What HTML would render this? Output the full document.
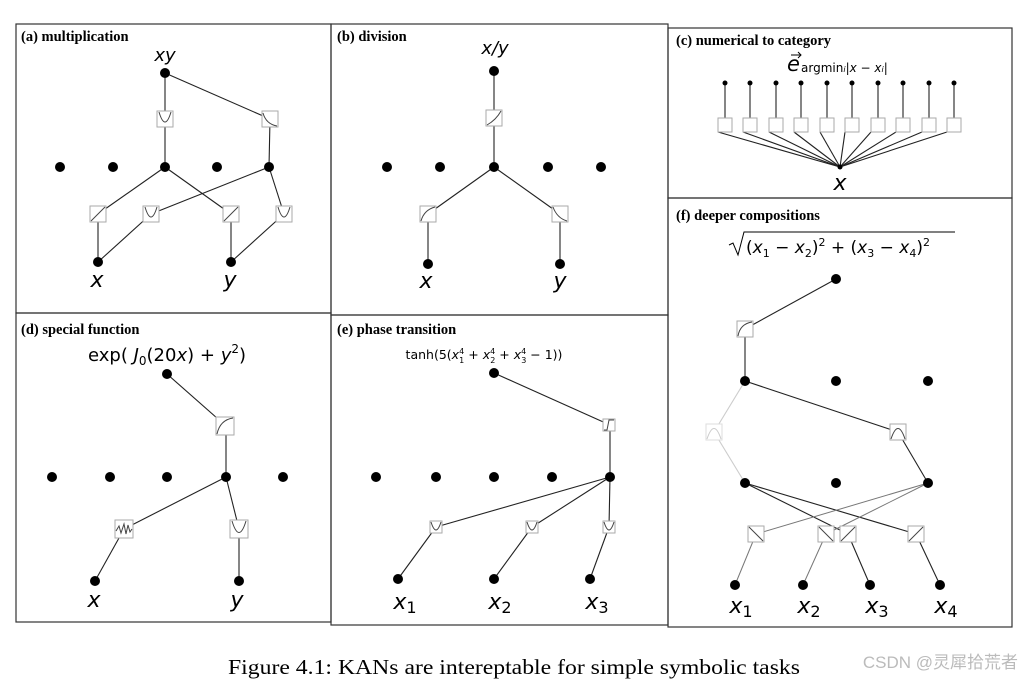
<!DOCTYPE html>
<html><head><meta charset="utf-8"><style>
body{margin:0;background:#fff;width:1024px;height:681px;overflow:hidden}
svg{display:block}
.t{font-family:"Liberation Serif",serif;font-weight:bold;font-size:14.5px}
.m{font-family:"DejaVu Sans","Liberation Sans",sans-serif;font-style:italic}
.b{fill:#fff;stroke:#aaa;stroke-width:1}
.c{fill:none;stroke:#444;stroke-width:1}
.e{stroke:#222;stroke-width:1.1}
.g{stroke:#ccc;stroke-width:1.1}
</style></head><body>
<svg width="1024" height="681" xmlns="http://www.w3.org/2000/svg">
<g fill="none" stroke="#333" stroke-width="1.2">
<rect x="16" y="24" width="315" height="289"/>
<rect x="331" y="24" width="337" height="291"/>
<rect x="668" y="28" width="344" height="170"/>
<rect x="16" y="313" width="315" height="309"/>
<rect x="331" y="315" width="337" height="310"/>
<rect x="668" y="198" width="344" height="429"/>
</g>
<text class="t" x="21" y="41">(a) multiplication</text>
<text class="t" x="337" y="41">(b) division</text>
<text class="t" x="676" y="45">(c) numerical to category</text>
<text class="t" x="21" y="334">(d) special function</text>
<text class="t" x="337" y="334">(e) phase transition</text>
<text class="t" x="676" y="220">(f) deeper compositions</text>

<!-- (a) -->
<g class="e">
<line x1="165" y1="73" x2="165" y2="167"/><line x1="165" y1="73" x2="270" y2="119"/><line x1="270" y1="119" x2="269" y2="167"/>
<line x1="165" y1="167" x2="98" y2="214"/><line x1="98" y1="214" x2="98" y2="262"/>
<line x1="165" y1="167" x2="231" y2="214"/><line x1="231" y1="214" x2="231" y2="262"/>
<line x1="269" y1="167" x2="151" y2="214"/><line x1="151" y1="214" x2="98" y2="262"/>
<line x1="269" y1="167" x2="284" y2="214"/><line x1="284" y1="214" x2="231" y2="262"/>
</g>
<g>
<rect class="b" x="157" y="111" width="16" height="16"/><path class="c" d="M159 112 Q165 132 171 112"/>
<rect class="b" x="262" y="111" width="16" height="16"/><path class="c" d="M263 113 Q266 124 277 126"/>
<rect class="b" x="90" y="206" width="16" height="16"/><path class="c" d="M91 221 L105 207"/>
<rect class="b" x="143" y="206" width="16" height="16"/><path class="c" d="M145 207 Q151 227 157 207"/>
<rect class="b" x="223" y="206" width="16" height="16"/><path class="c" d="M224 221 L238 207"/>
<rect class="b" x="276" y="206" width="16" height="16"/><path class="c" d="M278 207 Q284 227 290 207"/>
</g>
<g fill="#000"><circle cx="165" cy="73" r="5"/><circle cx="60" cy="167" r="5"/><circle cx="113" cy="167" r="5"/><circle cx="165" cy="167" r="5"/><circle cx="217" cy="167" r="5"/><circle cx="269" cy="167" r="5"/><circle cx="98" cy="262" r="5"/><circle cx="231" cy="262" r="5"/></g>
<text class="m" x="165" y="61" font-size="18" text-anchor="middle">xy</text>
<text class="m" x="97" y="287" font-size="22" text-anchor="middle">x</text>
<text class="m" x="230" y="287" font-size="22" text-anchor="middle">y</text>

<!-- (b) -->
<g class="e">
<line x1="494" y1="71" x2="494" y2="167"/><line x1="494" y1="167" x2="428" y2="214"/><line x1="428" y1="214" x2="428" y2="264"/>
<line x1="494" y1="167" x2="560" y2="214"/><line x1="560" y1="214" x2="560" y2="264"/>
</g>
<rect class="b" x="486" y="110" width="16" height="16"/><path class="c" d="M487 125 Q496 120 501 111"/>
<rect class="b" x="420" y="206" width="16" height="16"/><path class="c" d="M421 221 Q424 210 435 207"/>
<rect class="b" x="552" y="206" width="16" height="16"/><path class="c" d="M553 207 Q557 218 567 221"/>
<g fill="#000"><circle cx="494" cy="71" r="5"/><circle cx="387" cy="167" r="5"/><circle cx="440" cy="167" r="5"/><circle cx="494" cy="167" r="5"/><circle cx="548" cy="167" r="5"/><circle cx="601" cy="167" r="5"/><circle cx="428" cy="264" r="5"/><circle cx="560" cy="264" r="5"/></g>
<text class="m" x="495" y="54" font-size="18" text-anchor="middle">x/y</text>
<text class="m" x="426" y="288" font-size="22" text-anchor="middle">x</text>
<text class="m" x="560" y="288" font-size="22" text-anchor="middle">y</text>

<!-- (c) -->
<g class="e">
<line x1="725" y1="83" x2="725" y2="125"/><line x1="750" y1="83" x2="750" y2="125"/><line x1="776" y1="83" x2="776" y2="125"/><line x1="801" y1="83" x2="801" y2="125"/><line x1="827" y1="83" x2="827" y2="125"/><line x1="852" y1="83" x2="852" y2="125"/><line x1="878" y1="83" x2="878" y2="125"/><line x1="903" y1="83" x2="903" y2="125"/><line x1="929" y1="83" x2="929" y2="125"/><line x1="954" y1="83" x2="954" y2="125"/>
<line x1="718" y1="132" x2="840" y2="167"/><line x1="743" y1="132" x2="840" y2="167"/><line x1="769" y1="132" x2="840" y2="167"/><line x1="794" y1="132" x2="840" y2="167"/><line x1="820" y1="132" x2="840" y2="167"/><line x1="845" y1="132" x2="840" y2="167"/><line x1="871" y1="132" x2="840" y2="167"/><line x1="896" y1="132" x2="840" y2="167"/><line x1="922" y1="132" x2="840" y2="167"/><line x1="947" y1="132" x2="840" y2="167"/>
</g>
<g>
<rect class="b" x="718" y="118" width="14" height="14"/><rect class="b" x="743" y="118" width="14" height="14"/><rect class="b" x="769" y="118" width="14" height="14"/><rect class="b" x="794" y="118" width="14" height="14"/><rect class="b" x="820" y="118" width="14" height="14"/><rect class="b" x="845" y="118" width="14" height="14"/><rect class="b" x="871" y="118" width="14" height="14"/><rect class="b" x="896" y="118" width="14" height="14"/><rect class="b" x="922" y="118" width="14" height="14"/><rect class="b" x="947" y="118" width="14" height="14"/>
</g>
<g fill="#000"><circle cx="725" cy="83" r="2.5"/><circle cx="750" cy="83" r="2.5"/><circle cx="776" cy="83" r="2.5"/><circle cx="801" cy="83" r="2.5"/><circle cx="827" cy="83" r="2.5"/><circle cx="852" cy="83" r="2.5"/><circle cx="878" cy="83" r="2.5"/><circle cx="903" cy="83" r="2.5"/><circle cx="929" cy="83" r="2.5"/><circle cx="954" cy="83" r="2.5"/><circle cx="840" cy="167" r="2.5"/></g>
<text class="m" x="787" y="71" font-size="21">e</text>
<path d="M791 55 L801 55 M798 52 L801 55 L798 58" fill="none" stroke="#000" stroke-width="1"/>
<text x="801" y="72" font-size="12" font-family="DejaVu Sans,sans-serif">argmin<tspan font-size="8" font-style="italic">i</tspan>|<tspan font-style="italic">x</tspan> − <tspan font-style="italic">x</tspan><tspan font-size="8" font-style="italic">i</tspan>|</text>
<text class="m" x="840" y="190" font-size="22" text-anchor="middle">x</text>

<!-- (d) -->
<g class="e">
<line x1="167" y1="374" x2="226" y2="426"/><line x1="226" y1="426" x2="226" y2="477"/>
<line x1="226" y1="477" x2="124" y2="529"/><line x1="124" y1="529" x2="95" y2="581"/>
<line x1="226" y1="477" x2="239" y2="529"/><line x1="239" y1="529" x2="239" y2="581"/>
</g>
<rect class="b" x="216" y="417" width="18" height="18"/><path class="c" d="M217 434 Q220 420 233 418"/>
<rect class="b" x="115" y="520" width="18" height="18"/><path class="c" d="M116 531 L119 526 L121 533 L124 524 L126 534 L128 525 L130 532 L132 529"/>
<rect class="b" x="230" y="520" width="18" height="18"/><path class="c" d="M232 521 Q239 544 246 521"/>
<g fill="#000"><circle cx="167" cy="374" r="5"/><circle cx="52" cy="477" r="5"/><circle cx="110" cy="477" r="5"/><circle cx="167" cy="477" r="5"/><circle cx="226" cy="477" r="5"/><circle cx="283" cy="477" r="5"/><circle cx="95" cy="581" r="5"/><circle cx="239" cy="581" r="5"/></g>
<text x="167" y="361" font-size="18" text-anchor="middle" font-family="DejaVu Sans,sans-serif">exp( <tspan font-style="italic">J</tspan><tspan font-size="12" dy="4">0</tspan><tspan dy="-4">(20</tspan><tspan font-style="italic">x</tspan>) + <tspan font-style="italic">y</tspan><tspan font-size="12" dy="-8">2</tspan><tspan dy="8">)</tspan></text>
<text class="m" x="94" y="607" font-size="22" text-anchor="middle">x</text>
<text class="m" x="237" y="607" font-size="22" text-anchor="middle">y</text>

<!-- (e) -->
<g class="e">
<line x1="494" y1="373" x2="610" y2="425"/><line x1="610" y1="425" x2="610" y2="477"/>
<line x1="610" y1="477" x2="436" y2="527"/><line x1="436" y1="527" x2="398" y2="579"/>
<line x1="610" y1="477" x2="532" y2="527"/><line x1="532" y1="527" x2="494" y2="579"/>
<line x1="610" y1="477" x2="609" y2="527"/><line x1="609" y1="527" x2="590" y2="579"/>
</g>
<rect class="b" x="603" y="419" width="12" height="12"/><path class="c" d="M604 430 L607 430 L609 420 L614 420"/>
<rect class="b" x="430" y="521" width="12" height="12"/><path class="c" d="M431 522 Q436 538 441 522"/>
<rect class="b" x="526" y="521" width="12" height="12"/><path class="c" d="M527 522 Q532 538 537 522"/>
<rect class="b" x="603" y="521" width="12" height="12"/><path class="c" d="M604 522 Q609 538 614 522"/>
<g fill="#000"><circle cx="494" cy="373" r="5"/><circle cx="376" cy="477" r="5"/><circle cx="436" cy="477" r="5"/><circle cx="494" cy="477" r="5"/><circle cx="552" cy="477" r="5"/><circle cx="610" cy="477" r="5"/><circle cx="398" cy="579" r="5"/><circle cx="494" cy="579" r="5"/><circle cx="590" cy="579" r="5"/></g>
<text x="484" y="359" font-size="12.5" text-anchor="middle" font-family="DejaVu Sans,sans-serif">tanh(5(<tspan font-style="italic">x</tspan><tspan font-size="8" dy="-5">4</tspan><tspan font-size="8" dx="-5" dy="9">1</tspan><tspan dy="-4"> + </tspan><tspan font-style="italic">x</tspan><tspan font-size="8" dy="-5">4</tspan><tspan font-size="8" dx="-5" dy="9">2</tspan><tspan dy="-4"> + </tspan><tspan font-style="italic">x</tspan><tspan font-size="8" dy="-5">4</tspan><tspan font-size="8" dx="-5" dy="9">3</tspan><tspan dy="-4"> − 1))</tspan></text>
<text class="m" x="405" y="609" font-size="22" text-anchor="middle">x<tspan font-style="normal" font-size="16" dy="4">1</tspan></text>
<text class="m" x="500" y="609" font-size="22" text-anchor="middle">x<tspan font-style="normal" font-size="16" dy="4">2</tspan></text>
<text class="m" x="597" y="609" font-size="22" text-anchor="middle">x<tspan font-style="normal" font-size="16" dy="4">3</tspan></text>

<!-- (f) -->
<g class="e">
<line x1="836" y1="279" x2="745" y2="329"/><line x1="745" y1="329" x2="745" y2="381"/>
<line x1="745" y1="381" x2="898" y2="432"/><line x1="898" y1="432" x2="928" y2="483"/>
<line x1="745" y1="483" x2="848" y2="534"/><line x1="848" y1="534" x2="870" y2="585"/>
<line x1="745" y1="483" x2="916" y2="534"/><line x1="916" y1="534" x2="940" y2="585"/>
</g>
<g stroke="#777" stroke-width="1">
<line x1="928" y1="483" x2="756" y2="534"/><line x1="756" y1="534" x2="735" y2="585"/>
<line x1="928" y1="483" x2="826" y2="534"/><line x1="826" y1="534" x2="803" y2="585"/>
</g>
<g class="g"><line x1="745" y1="381" x2="714" y2="432"/><line x1="714" y1="432" x2="745" y2="483"/></g>
<rect class="b" x="737" y="321" width="16" height="16"/><path class="c" d="M738 336 Q740 324 752 322"/>
<rect x="706" y="424" width="16" height="16" fill="#fff" stroke="#ddd"/><path d="M707 439 Q714 418 721 439" fill="none" stroke="#ccc"/>
<rect class="b" x="890" y="424" width="16" height="16"/><path class="c" d="M891 439 Q898 418 905 439"/>
<rect class="b" x="748" y="526" width="16" height="16"/><path class="c" d="M749 527 L763 541"/>
<rect class="b" x="818" y="526" width="16" height="16"/><path class="c" d="M819 527 L833 541"/>
<rect class="b" x="840" y="526" width="16" height="16"/><path class="c" d="M841 541 L855 527"/>
<rect class="b" x="908" y="526" width="16" height="16"/><path class="c" d="M909 541 L923 527"/>
<g fill="#000"><circle cx="836" cy="279" r="5"/><circle cx="745" cy="381" r="5"/><circle cx="836" cy="381" r="5"/><circle cx="928" cy="381" r="5"/><circle cx="745" cy="483" r="5"/><circle cx="836" cy="483" r="5"/><circle cx="928" cy="483" r="5"/><circle cx="735" cy="585" r="5"/><circle cx="803" cy="585" r="5"/><circle cx="870" cy="585" r="5"/><circle cx="940" cy="585" r="5"/></g>
<path d="M729 245 L733 243 L738 255 L744 232 L955 232" fill="none" stroke="#000" stroke-width="1"/>
<text x="746" y="253" font-size="17" font-family="DejaVu Sans,sans-serif">(<tspan font-style="italic">x</tspan><tspan font-size="11" dy="4">1</tspan><tspan dy="-4"> − </tspan><tspan font-style="italic">x</tspan><tspan font-size="11" dy="4">2</tspan><tspan dy="-4">)</tspan><tspan font-size="11" dy="-7">2</tspan><tspan dy="7"> + (</tspan><tspan font-style="italic">x</tspan><tspan font-size="11" dy="4">3</tspan><tspan dy="-4"> − </tspan><tspan font-style="italic">x</tspan><tspan font-size="11" dy="4">4</tspan><tspan dy="-4">)</tspan><tspan font-size="11" dy="-7">2</tspan></text>
<text class="m" x="741" y="613" font-size="22" text-anchor="middle">x<tspan font-style="normal" font-size="16" dy="4">1</tspan></text>
<text class="m" x="809" y="613" font-size="22" text-anchor="middle">x<tspan font-style="normal" font-size="16" dy="4">2</tspan></text>
<text class="m" x="877" y="613" font-size="22" text-anchor="middle">x<tspan font-style="normal" font-size="16" dy="4">3</tspan></text>
<text class="m" x="946" y="613" font-size="22" text-anchor="middle">x<tspan font-style="normal" font-size="16" dy="4">4</tspan></text>

<text x="228" y="674" font-size="21" textLength="572" lengthAdjust="spacingAndGlyphs" font-family="Liberation Serif,serif">Figure 4.1: KANs are intereptable for simple symbolic tasks</text>
<text x="1018" y="668" font-size="17" text-anchor="end" fill="#bbb" font-family="Liberation Sans,'Noto Sans CJK SC',sans-serif">CSDN @灵犀拾荒者</text>
</svg>
</body></html>
